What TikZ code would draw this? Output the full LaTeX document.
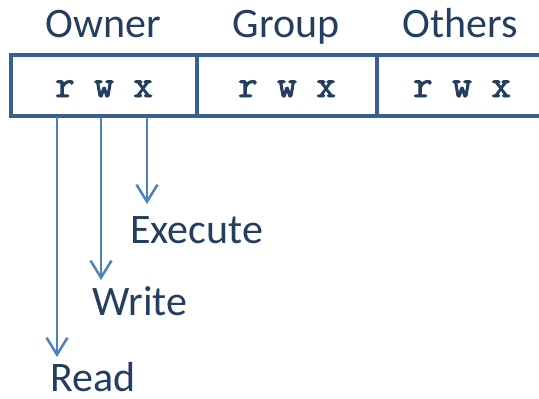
\documentclass[tikz,border=0pt]{standalone}
\usepackage{fontspec}
\setmainfont{Carlito}
\newfontfamily\permfont[FakeBold=2.5]{Latin Modern Mono}
\usetikzlibrary{arrows.meta}
\definecolor{txtblue}{RGB}{36,62,96}
\definecolor{boxblue}{RGB}{55,96,146}
\definecolor{arrblue}{RGB}{79,129,189}
\tikzset{
  hdr/.style={font=\fontsize{42}{50}\selectfont, text=txtblue, anchor=base, inner sep=0pt},
  perm/.style={font=\permfont\fontsize{38}{44}\selectfont, text=txtblue, anchor=base, inner sep=0pt},
  lbl/.style={font=\fontsize{42}{50}\selectfont, text=txtblue, anchor=base west, inner sep=0pt},
  cell/.style={draw=boxblue, line width=4pt, inner sep=0pt},
  arr/.style={draw=arrblue, line width=2.5pt, -{Straight Barb[length=17pt,width=21pt,line width=2.5pt]}}
}
\begin{document}
\begin{tikzpicture}[x=1pt,y=-1pt]
\useasboundingbox (0,0) rectangle (539,399);
% cells
\node[cell, minimum width=186pt, minimum height=61pt] (c1) at (104,85.5) {};
\node[cell, minimum width=180pt, minimum height=61pt] (c2) at (287,85.5) {};
\node[cell, minimum width=170pt, minimum height=61pt] (c3) at (462,85.5) {};
% headers
\node[hdr] (h1) at (103,37) {Owner};
\node[hdr] (h2) at (286,37) {Group};
\node[hdr] (h3) at (460,37) {Others};
% permissions
\node[perm] (p1) at (104,97) {r w x};
\node[perm] (p2) at (287,97) {r w x};
\node[perm] (p3) at (462,97) {r w x};
% arrow coordinates
\coordinate (sr) at (57,117);
\coordinate (sw) at (101,117);
\coordinate (sx) at (147,117);
\coordinate (er) at (57,357);
\coordinate (ew) at (101,280);
\coordinate (ex) at (147,204);
\draw[arr] (sr) -- (er);
\draw[arr] (sw) -- (ew);
\draw[arr] (sx) -- (ex);
% labels
\node[lbl] (lx) at (130,243) {Execute};
\node[lbl] (lw) at (92,315) {Write};
\node[lbl] (lr) at (50,391) {Read};
\end{tikzpicture}
\end{document}
